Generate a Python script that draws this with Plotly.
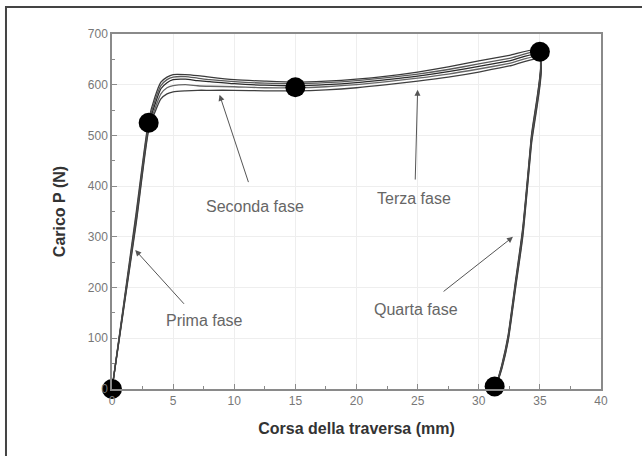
import plotly.graph_objects as go

# Crosshead travel (mm) along the loading branch, shared by all tests
x_load = [0, 1, 2, 3, 3.5, 4, 4.5, 5, 6, 7, 8, 10, 12.5, 15, 17.5, 20, 22.5, 25, 27.5, 30, 32.5, 35]
# Crosshead travel (mm) along the unloading branch
x_unload = [34.3, 33.6, 33.0, 32.4, 31.9, 31.4]

# Load P (N) for each test, loading branch
load_1 = [0, 176, 352, 530, 575, 605, 615, 620, 620, 618, 615, 610, 607, 605, 607, 611, 617, 625, 635, 647, 658, 668]
load_2 = [0, 172, 345, 525, 568, 598, 610, 615, 616, 613, 610, 606, 603, 602, 604, 608, 614, 621, 630, 641, 652, 664]
load_3 = [0, 170, 340, 520, 560, 592, 604, 610, 611, 608, 606, 602, 599, 598, 600, 604, 610, 617, 626, 636, 647, 660]
load_4 = [0, 168, 335, 515, 552, 582, 594, 598, 600, 598, 597, 596, 594, 594, 596, 600, 606, 613, 621, 631, 642, 655]
load_5 = [0, 165, 330, 510, 545, 572, 582, 586, 588, 589, 589, 589, 588, 588, 590, 594, 600, 607, 615, 625, 637, 650]

# Load P (N) for each test, unloading branch
unload_1 = [498, 318, 212, 106, 49, 5]
unload_2 = [494, 314, 208, 103, 47, 4]
unload_3 = [490, 310, 205, 100, 45, 4]
unload_4 = [485, 305, 201, 97, 43, 3]
unload_5 = [480, 300, 197, 94, 41, 3]

# Phase boundary points
pts_x = [0, 3, 15, 35, 31.3]
pts_y = [0, 525, 595, 665, 5]

# Phase labels: text position and arrow tip
phase_text = ["Prima fase", "Seconda fase", "Terza fase", "Quarta fase"]
text_x = [7.6, 11.7, 24.7, 24.9]
text_y = [136, 359, 376, 156]
tail_x = [6.0, 11.2, 24.8, 27.0]
tail_y = [165, 405, 410, 190]
tip_x = [1.9, 8.8, 25.0, 32.8]
tip_y = [274, 580, 590, 300]

fig = go.Figure()

loads = [load_1, load_2, load_3, load_4, load_5]
unloads = [unload_1, unload_2, unload_3, unload_4, unload_5]
line_colors = ["#3a3a3a", "#5a5a5a", "#2a2a2a", "#666666", "#404040"]
for ld, ul, col in zip(loads, unloads, line_colors):
    fig.add_trace(go.Scatter(
        x=x_load + x_unload, y=ld + ul, mode="lines",
        line=dict(color=col, width=1.3, shape="spline", smoothing=0.6),
        showlegend=False, hoverinfo="skip",
    ))

fig.add_trace(go.Scatter(
    x=pts_x, y=pts_y, mode="markers",
    marker=dict(size=20, color="#000000"), cliponaxis=False, showlegend=False,
))

for t, xt, yt, xa, ya, xh, yh in zip(phase_text, text_x, text_y, tail_x, tail_y, tip_x, tip_y):
    fig.add_annotation(
        x=xt, y=yt, text=t, showarrow=False,
        font=dict(family="Liberation Sans, Arial", size=16, color="#666666"),
    )
    fig.add_annotation(
        x=xh, y=yh, ax=xa, ay=ya, xref="x", yref="y", axref="x", ayref="y",
        text="", showarrow=True, arrowhead=2, arrowsize=1.2, arrowwidth=1,
        arrowcolor="#555555",
    )

# Outer frame around the figure
fig.add_shape(
    type="rect", xref="paper", yref="paper",
    x0=-0.2168, x1=1.3, y0=-0.4, y1=1.076,
    line=dict(color="#444444", width=2), layer="below",
)

axis_common = dict(
    showline=True, linecolor="#8a8a8a", linewidth=1.5, mirror=True,
    ticks="inside", ticklen=5, tickcolor="#8a8a8a", tickwidth=1,
    showgrid=True, gridcolor="#eeeeee", gridwidth=1, zeroline=False,
    tickfont=dict(family="Liberation Sans, Arial", size=12, color="#777777"),
)

fig.update_xaxes(
    range=[0, 40], dtick=5, tick0=0,
    minor=dict(ticks="inside", ticklen=3, dtick=2.5, tickcolor="#8a8a8a", showgrid=False),
    title=dict(text="Corsa della traversa (mm)", standoff=16,
               font=dict(family="Liberation Sans, Arial", size=16, color="#333333", weight="bold")),
    **axis_common,
)
fig.update_yaxes(
    range=[0, 700], dtick=100, tick0=0,
    minor=dict(ticks="inside", ticklen=3, dtick=50, tickcolor="#8a8a8a", showgrid=False),
    title=dict(text="Carico P (N)", standoff=18,
               font=dict(family="Liberation Sans, Arial", size=16, color="#333333", weight="bold")),
    **axis_common,
)

fig.update_layout(
    width=642, height=456,
    margin=dict(l=112, r=41, t=34, b=67),
    paper_bgcolor="white", plot_bgcolor="white",
)

fig.write_html("out.html")
